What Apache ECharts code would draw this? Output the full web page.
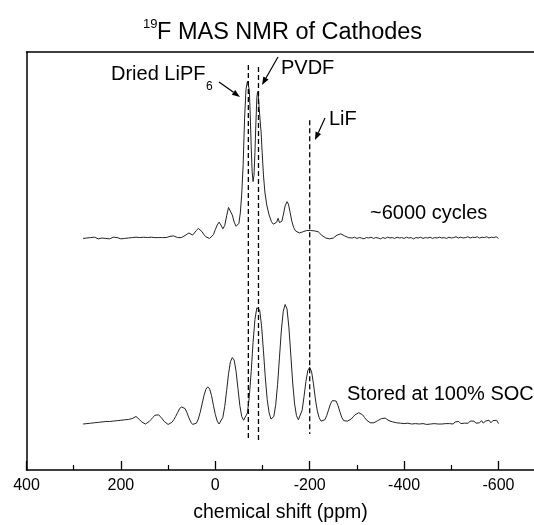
<!DOCTYPE html>
<html>
<head>
<meta charset="utf-8">
<script src="https://cdn.jsdelivr.net/npm/echarts@6/dist/echarts.min.js"></script>
<style>
html,body{margin:0;padding:0;background:#fff;}
#chart{width:534px;height:525px;}
</style>
</head>
<body>
<div id="chart"></div>
<script>
// x tick labels (ppm), reversed axis
const xTicks = [400, 200, 0, -200, -400, -600];

// Reference line positions (ppm) and their vertical extent (a.u.)
const refNames = ['LiPF6', 'PVDF', 'LiF'];
const refPpm = [-70, -91.5, -200];
const refTop = [96.9, 96.4, 83.7];
const refBottom = [7.2, 7.0, 8.6];

// ~6000 cycles spectrum: [ppm, intensity a.u.]
const cycled6000 = [
[280,55.4],[276,55.7],[272,55.5],[268,55.3],[264,55.6],[260,55.4],[256,55.7],[252,55.5],[248,55.3],[244,55.6],
[240,55.5],[236,55.7],[232,55.4],[228,55.6],[224,55.3],[220,55.5],[216,55.7],[212,55.4],[208,55.6],[204,55.5],
[200,55.3],[196,55.6],[192,55.4],[188,55.7],[184,55.5],[180,55.4],[176,55.6],[172,55.5],[168,55.7],[164,55.4],
[160,55.6],[156,55.5],[152,55.7],[148,55.5],[144,55.6],[140,55.4],[136,55.7],[132,55.5],[128,55.6],[124,55.8],
[120,55.6],[116,55.8],[112,55.6],[108,55.7],[104,55.6],
[100,55.7],[96,55.9],[92,56.2],[88,56.0],[84,55.7],[80,55.6],[76,55.5],[72,55.6],[68,55.8],[64,56.1],
[60,56.5],[56,56.7],[52,56.4],[48,56.2],[44,56.6],[40,57.3],[36,57.8],[32,57.7],[28,57.0],[24,56.3],
[20,55.8],[16,55.5],[12,55.4],[8,55.5],[4,56.3],[0,57.5],[-4,58.6],[-8,59.3],[-12,58.6],[-16,57.7],
[-20,58.5],[-24,60.8],[-28,62.8],[-30,63.0],[-32,62.7],[-36,61.0],[-40,59.3],[-44,58.3],[-46,58.2],[-50,59.0],
[-53,61.5],[-56,66],[-59,73],[-62,84],[-65,91],[-68,93.0],[-70,93.3],[-72,91],[-74,85],[-76,77.5],
[-78,71.5],[-80,69.0],[-82,70.5],[-84,76],[-86,83],[-88,89],[-89.5,90.5],[-91,89.8],[-93,86.5],[-95,83.5],
[-97,80.9],[-99,76.5],[-102,70.6],[-105,66.5],[-109,63.4],[-114,61],[-119,59.4],[-123,58.8],[-127,58.6],[-130,59.3],
[-133,60.2],[-136,59.2],[-138,58.8],[-141,59.5],[-144,61.0],[-148,63.2],[-152,64.2],[-155,63.6],[-158,61.9],[-162,59.6],
[-166,58.0],[-170,57.2],[-174,56.8],[-178,56.7],[-182,56.9],[-186,57.0],[-190,57.1],[-194,57.3],[-198,57.5],[-202,57.3],
[-206,57.0],[-210,57.2],[-214,57.3],[-218,57.0],[-222,56.6],[-226,56.1],[-230,55.8],[-234,55.5],[-238,55.4],[-242,55.3],
[-246,55.3],[-250,55.5],[-254,55.8],[-258,56.2],[-262,56.4],[-266,56.5],[-270,56.3],[-274,56.0],[-278,55.8],[-282,55.6],
[-286,55.5],[-290,55.5],[-295,55.7],[-300,55.4],[-305,55.6],[-310,55.5],[-315,55.3],[-320,55.6],[-325,55.5],[-330,55.7],
[-335,55.4],[-340,55.6],[-345,55.5],[-350,55.3],[-355,55.6],[-360,55.4],[-365,55.7],[-370,55.5],[-375,55.6],[-380,55.4],
[-385,55.7],[-390,55.5],[-395,55.6],[-400,55.4],[-405,55.7],[-410,55.5],[-415,55.6],[-420,55.3],[-425,55.6],[-430,55.5],
[-435,55.7],[-440,55.4],[-445,55.6],[-450,55.5],[-455,55.7],[-460,55.4],[-465,55.6],[-470,55.5],[-475,55.7],[-480,55.5],
[-485,55.6],[-490,55.4],[-495,55.7],[-500,55.5],[-505,55.6],[-510,55.8],[-515,55.5],[-520,55.7],[-525,55.5],[-530,55.6],
[-535,55.8],[-540,55.5],[-545,55.7],[-550,55.6],[-555,55.8],[-560,55.5],[-565,55.7],[-570,55.6],[-575,55.8],[-580,55.5],
[-585,55.7],[-590,55.6],[-595,55.8],[-600,55.4]
];

// Stored at 100% SOC spectrum: [ppm, intensity a.u.]
const stored100 = [
[280,11.0],[276,11.4],[272,11.1],[268,11.5],[264,11.2],[260,11.6],[256,11.3],[252,11.7],[248,11.4],[244,11.8],
[240,11.5],[236,11.9],[232,11.6],[228,11.9],[224,11.6],[220,12.0],[216,11.7],[212,12.1],[208,11.8],[204,12.2],
[200,11.9],[196,12.2],[192,12.0],[188,12.3],[184,12.1],[180,12.4],[176,12.3],[172,12.7],[168,12.8],[164,12.4],
[160,12.0],[156,11.5],[152,11.2],[148,11.0],[144,11.2],[140,11.6],[136,12.1],[132,12.6],[128,13.1],[124,13.3],
[120,13.2],[116,12.8],[112,12.2],[108,11.6],[104,11.2],[100,10.9],[96,11.0],[92,11.4],[88,12.0],[84,12.8],
[80,13.7],[76,14.6],[72,15.1],[68,15.2],[64,14.7],[60,13.7],[56,12.5],[52,11.5],[48,10.9],[44,10.8],
[40,11.2],[36,12.2],[32,13.8],[28,15.8],[24,17.8],[20,19.3],[16,19.9],[12,19.4],[8,17.8],[4,15.5],
[0,13.3],[-4,11.7],[-8,11.0],[-12,11.2],[-16,12.6],[-20,15.2],[-24,19.0],[-28,23.0],[-32,25.9],[-36,26.9],
[-40,26.3],[-44,23.6],[-48,19.5],[-52,15.4],[-56,12.8],[-60,11.9],[-64,12.0],[-68,13.6],[-72,17.5],[-76,23.5],
[-80,30.5],[-84,36.0],[-88,38.8],[-91,39.2],[-94,38.3],[-98,34.5],[-102,28.5],[-106,22.0],[-110,16.8],[-114,13.7],
[-118,12.2],[-120,12.0],[-124,12.8],[-128,15.6],[-132,20.5],[-136,27.0],[-140,33.5],[-144,38.0],[-148,39.6],[-152,38.5],
[-156,34.0],[-160,27.5],[-164,20.8],[-168,15.8],[-172,13.0],[-176,12.0],[-180,12.4],[-184,14.3],[-188,17.6],[-192,21.2],
[-196,23.8],[-200,24.6],[-204,23.5],[-208,20.6],[-212,17.0],[-216,14.2],[-220,12.5],[-224,11.7],[-228,11.6],[-232,12.0],
[-236,13.0],[-240,14.4],[-244,15.8],[-248,16.6],[-252,16.8],[-256,16.5],[-260,15.4],[-264,13.9],[-268,12.6],[-272,11.8],
[-276,11.5],[-280,11.7],[-284,11.8],[-288,12.2],[-292,12.7],[-296,13.2],[-300,13.5],[-304,13.7],[-308,13.6],[-312,13.2],
[-316,12.6],[-320,12.0],[-324,11.6],[-328,11.3],[-332,11.2],[-336,11.3],[-340,11.5],[-344,11.8],[-348,12.1],[-352,12.3],
[-356,12.5],[-360,12.4],[-364,12.1],[-368,11.8],[-372,11.7],[-376,11.5],[-380,11.6],[-384,11.3],[-388,11.5],[-392,11.2],
[-396,11.4],[-400,11.1],[-404,11.5],[-408,11.2],[-412,11.3],[-416,11.0],[-420,11.4],[-424,11.1],[-428,11.3],[-432,11.0],
[-436,11.4],[-440,11.1],[-444,11.2],[-448,10.9],[-452,11.3],[-456,11.0],[-460,11.4],[-464,11.1],[-468,11.5],[-472,11.0],
[-476,11.3],[-480,11.0],[-484,11.4],[-488,11.1],[-492,11.5],[-496,11.1],[-500,11.4],[-504,11.0],[-508,11.5],[-512,11.2],
[-516,11.6],[-520,11.1],[-524,11.5],[-528,11.2],[-532,11.6],[-536,11.2],[-540,11.7],[-544,11.3],[-548,11.7],[-552,11.2],
[-556,11.6],[-560,11.3],[-564,11.8],[-568,11.2],[-572,11.7],[-576,11.4],[-580,11.9],[-584,11.3],[-588,11.8],[-592,11.5],
[-596,11.9],[-600,11.1]
];

const FONT = '"Liberation Sans", Arial, Helvetica, sans-serif';

function txt(text, x, y, size, align) {
  return {
    type: 'text', x: x, y: y, silent: true,
    style: { text: text, fontSize: size, fontFamily: FONT, fill: '#000',
             textAlign: align || 'left', textVerticalAlign: 'middle' }
  };
}
function arrow(x1, y1, x2, y2) {
  const ang = Math.atan2(y2 - y1, x2 - x1);
  const L = 8, W = 3;
  const bx = x2 - L * Math.cos(ang), by = y2 - L * Math.sin(ang);
  const px = -Math.sin(ang) * W, py = Math.cos(ang) * W;
  return [
    { type: 'line', silent: true, shape: { x1: x1, y1: y1, x2: bx, y2: by },
      style: { stroke: '#000', lineWidth: 1.2 } },
    { type: 'polygon', silent: true,
      shape: { points: [[x2, y2], [bx + px, by + py], [bx - px, by - py]] },
      style: { fill: '#000' } }
  ];
}

const refSeries = refPpm.map((p, i) => ({
  name: refNames[i], type: 'line', silent: true, symbol: 'none',
  data: [[p, refTop[i]], [p, refBottom[i]]],
  lineStyle: { color: '#000', width: 1.3, type: [5, 3] }, z: 3
}));

const chart = echarts.init(document.getElementById('chart'), null, { renderer: 'canvas' });
chart.setOption({
  animation: false,
  backgroundColor: '#fff',
  grid: { left: 26.5, top: 52, width: 566.4, height: 418, show: false,
          outerBoundsMode: 'none', containLabel: false },
  xAxis: [{
    type: 'value', inverse: true, min: -800, max: 400, interval: 200,
    axisLine: { show: true, onZero: false, lineStyle: { color: '#000', width: 1.5 } },
    axisTick: { show: true, inside: true, length: 9, lineStyle: { color: '#000', width: 1.3 } },
    minorTick: { show: true, splitNumber: 2, length: 5, lineStyle: { color: '#000', width: 1.2 } },
    axisLabel: { color: '#000', fontSize: 16, fontFamily: FONT, margin: 8,
                 formatter: v => (xTicks.indexOf(v) >= 0 ? String(v) : '') },
    splitLine: { show: false }, minorSplitLine: { show: false }
  }, {
    type: 'value', position: 'top', inverse: true, min: -800, max: 400, interval: 200,
    axisLine: { show: true, onZero: false, lineStyle: { color: '#000', width: 1.5 } },
    axisTick: { show: false }, axisLabel: { show: false }, splitLine: { show: false }
  }],
  yAxis: {
    type: 'value', min: 0, max: 100,
    axisLine: { show: true, onZero: false, lineStyle: { color: '#000', width: 1.5 } },
    axisTick: { show: false }, axisLabel: { show: false }, splitLine: { show: false }
  },
  series: [
    { name: '~6000 cycles', type: 'line', symbol: 'none', data: cycled6000,
      lineStyle: { color: '#222', width: 1 }, silent: true, z: 2 },
    { name: 'Stored at 100% SOC', type: 'line', symbol: 'none', data: stored100,
      lineStyle: { color: '#222', width: 1 }, silent: true, z: 2 }
  ].concat(refSeries),
  graphic: [
    txt('19', 143, 24, 13),
    txt('F MAS NMR of Cathodes', 157, 33, 23.5),
    txt('Dried LiPF', 111, 74, 20),
    txt('6', 206, 87, 12),
    txt('PVDF', 281, 68, 20),
    txt('LiF', 329, 119, 20),
    txt('~6000 cycles', 370, 213, 20),
    txt('Stored at 100% SOC', 347, 394, 20),
    txt('chemical shift (ppm)', 280.5, 513, 19.5, 'center')
  ].concat(arrow(219, 82, 240, 97), arrow(278, 57, 262, 85), arrow(325, 118, 315, 140))
});
</script>
</body>
</html>
